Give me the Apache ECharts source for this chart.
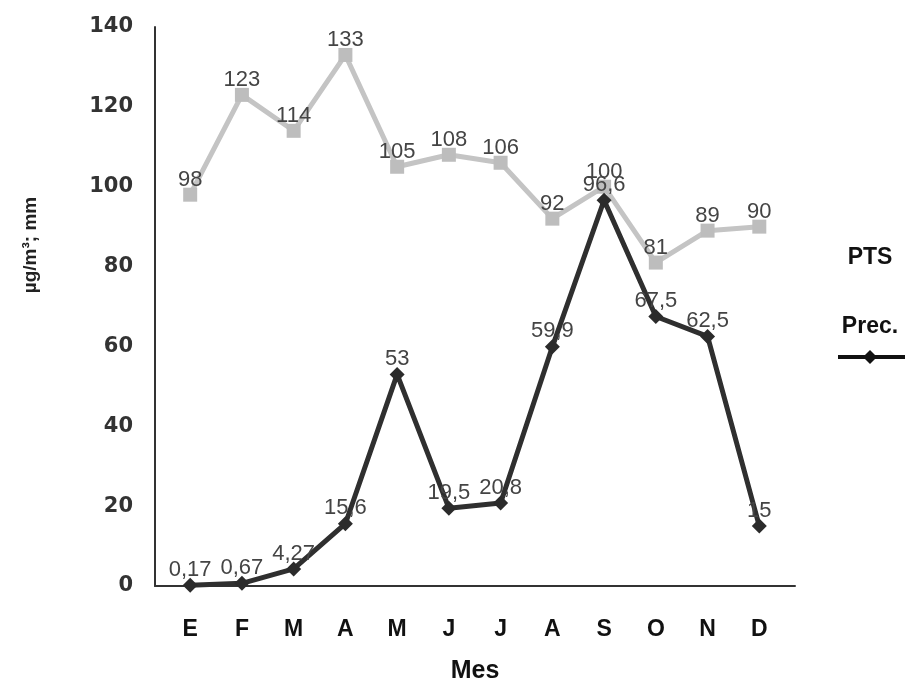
<!DOCTYPE html>
<html>
<head>
<meta charset="utf-8">
<script src="https://cdn.jsdelivr.net/npm/echarts@6/dist/echarts.min.js"></script>
<style>
  html, body { margin: 0; padding: 0; background: #ffffff; }
  #chart { width: 906px; height: 682px; }
</style>
</head>
<body>
<div id="chart"></div>
<script>
// Month initials (Spanish) and monthly values
const months = ['E', 'F', 'M', 'A', 'M', 'J', 'J', 'A', 'S', 'O', 'N', 'D'];
const ptsValues = [98, 123, 114, 133, 105, 108, 106, 92, 100, 81, 89, 90];
const precValues = [0.17, 0.67, 4.27, 15.6, 53, 19.5, 20.8, 59.9, 96.6, 67.5, 62.5, 15];
const yTicks = [0, 20, 40, 60, 80, 100, 120, 140];

const monthIdx = months.map((_, i) => i);
const toPairs = vals => vals.map((v, i) => [i, v]);
const comma = v => String(v).replace('.', ',');

const chart = echarts.init(document.getElementById('chart'), null, { renderer: 'canvas' });

const labelStyle = {
  show: true,
  position: 'top',
  distance: -3,
  fontFamily: 'Liberation Sans, Arial, sans-serif',
  fontSize: 22,
  color: '#444444',
  formatter: p => comma(p.value[1])
};

chart.setOption({
  backgroundColor: '#ffffff',
  animation: false,
  grid: { left: 155, right: 111, top: 27, bottom: 96, outerBoundsMode: 'none', containLabel: false },
  xAxis: {
    type: 'value',
    min: -0.68,
    max: 11.69,
    name: 'Mes',
    nameLocation: 'middle',
    nameGap: 73,
    nameTextStyle: {
      fontFamily: 'Liberation Sans, Arial, sans-serif',
      fontWeight: 'bold',
      fontSize: 25,
      color: '#111111'
    },
    splitLine: { show: false },
    axisTick: { show: false },
    axisLine: { show: true, onZero: false, lineStyle: { color: '#333333', width: 2 } },
    axisLabel: {
      customValues: monthIdx,
      margin: 32,
      fontFamily: 'Liberation Sans, Arial, sans-serif',
      fontWeight: 'bold',
      fontSize: 23,
      color: '#111111',
      formatter: v => months[Math.round(v)]
    }
  },
  yAxis: {
    type: 'value',
    min: yTicks[0],
    max: yTicks[yTicks.length - 1],
    interval: yTicks[1] - yTicks[0],
    splitLine: { show: false },
    axisTick: { show: false },
    axisLine: { show: true, onZero: false, lineStyle: { color: '#333333', width: 2 } },
    axisLabel: {
      margin: 22,
      fontFamily: 'DejaVu Sans, sans-serif',
      fontWeight: 'bold',
      fontSize: 21,
      color: '#333333'
    }
  },
  series: [
    {
      name: 'PTS',
      type: 'line',
      data: toPairs(ptsValues),
      symbol: 'rect',
      symbolSize: 14,
      itemStyle: { color: '#bdbdbd' },
      lineStyle: { color: '#c4c4c4', width: 5 },
      label: labelStyle,
      z: 2
    },
    {
      name: 'Prec.',
      type: 'line',
      data: toPairs(precValues),
      symbol: 'diamond',
      symbolSize: 15,
      itemStyle: { color: '#2b2b2b' },
      lineStyle: { color: '#2f2f2f', width: 5 },
      label: labelStyle,
      z: 3
    }
  ],
  graphic: [
    {
      type: 'text',
      x: 31, y: 245,
      rotation: Math.PI / 2,
      style: {
        text: 'µg/m³; mm',
        fontFamily: 'Liberation Sans, Arial, sans-serif',
        fontSize: 19,
        fontWeight: 'bold',
        fill: '#222222',
        align: 'center',
        verticalAlign: 'middle'
      }
    },
    {
      type: 'text',
      x: 870, y: 258,
      style: {
        text: 'PTS',
        fontFamily: 'Liberation Sans, Arial, sans-serif',
        fontSize: 23,
        fontWeight: 'bold',
        fill: '#111111',
        align: 'center',
        verticalAlign: 'middle'
      }
    },
    {
      type: 'text',
      x: 870, y: 327,
      style: {
        text: 'Prec.',
        fontFamily: 'Liberation Sans, Arial, sans-serif',
        fontSize: 23,
        fontWeight: 'bold',
        fill: '#111111',
        align: 'center',
        verticalAlign: 'middle'
      }
    },
    {
      type: 'line',
      shape: { x1: 838, y1: 357, x2: 905, y2: 357 },
      style: { stroke: '#111111', lineWidth: 4 }
    },
    {
      type: 'polygon',
      shape: { points: [[870, 350], [877, 357], [870, 364], [863, 357]] },
      style: { fill: '#111111' }
    }
  ]
});
</script>
</body>
</html>
